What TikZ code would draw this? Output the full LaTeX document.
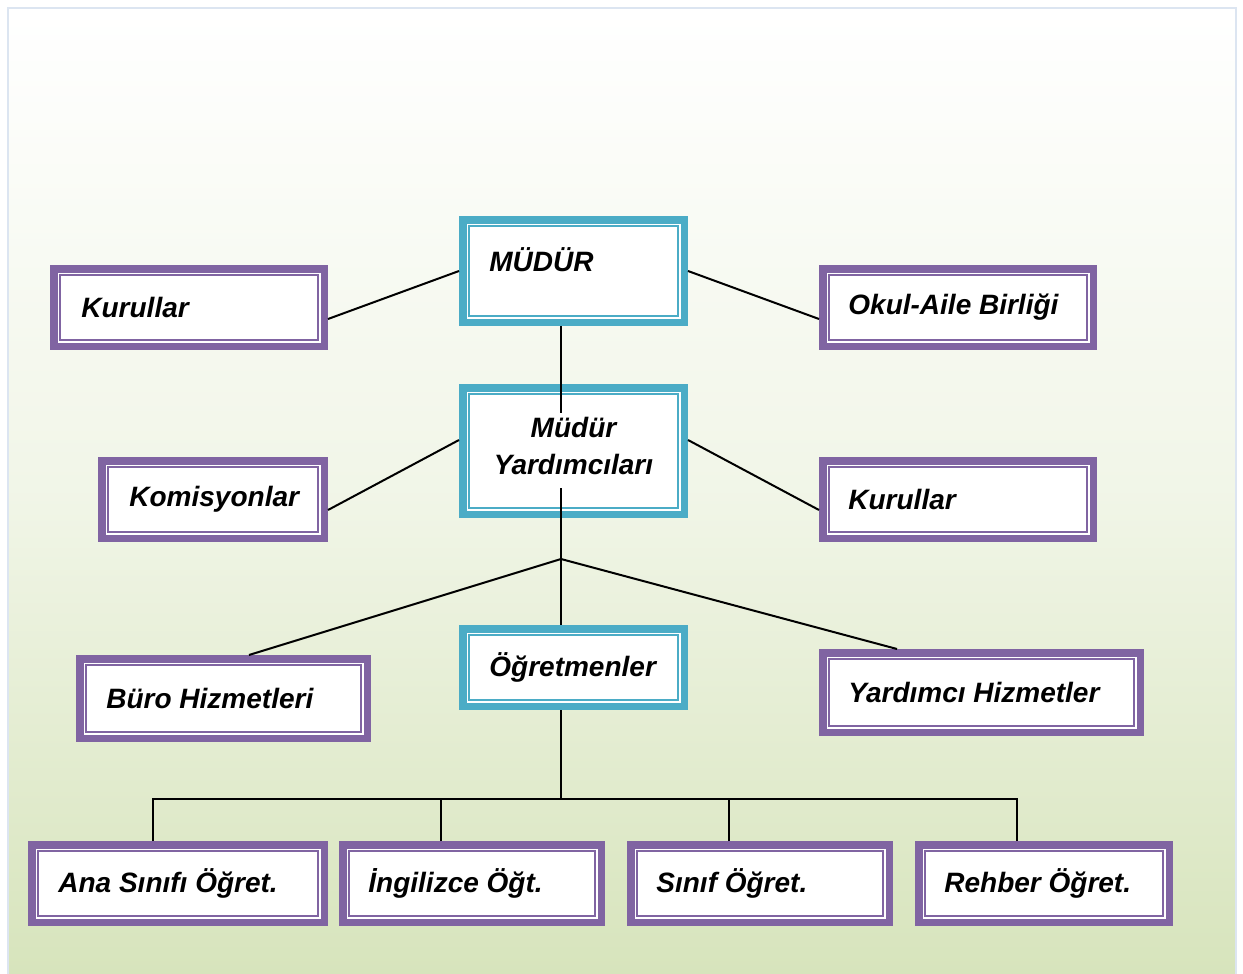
\documentclass[tikz,border=0pt]{standalone}
\usepackage{fontspec}
\setmainfont{Liberation Sans}
\usetikzlibrary{positioning}
\definecolor{purp}{HTML}{8064A2}
\definecolor{aqua}{HTML}{4BACC6}
\definecolor{olive}{HTML}{D7E4BC}
\definecolor{pageline}{HTML}{DCE5F1}
\tikzset{box/.style = {draw=#1, line width=3.75pt, fill=white, inner sep=0pt, minimum height=38.75pt,
                       path picture={\draw [#1, line width=0.9pt]
                         ([shift={(3pt, 3pt)}]path picture bounding box.south west)
                         rectangle ([shift={(-3pt, -3pt)}]path picture bounding box.north east);}}}
\tikzset{txt/.style = {font=\bfseries\itshape\fontsize{14}{18.5}\selectfont, inner sep=0pt}}
\tikzset{link/.style = {line width=1pt, black}}

\begin{document}
\begin{tikzpicture}[x=0.5pt, y=-0.5pt]
      \useasboundingbox (0, 0) rectangle (1243, 974);
      \shade [top color=white, bottom color=olive, middle color=olive!35] (9, 9) rectangle (1235, 974);
      \draw [pageline, line width=1.2pt] (8, 974) -- (8, 8) -- (1236, 8) -- (1236, 974);

      % top row
      \node [box=aqua, minimum width=110.75pt, minimum height=51.25pt] (mudur) at (573.5, 271) {};
      \node [box=purp, minimum width=135.25pt] (kurul1) at (189, 307.5) {};
      \node [box=purp, minimum width=135.25pt] (okul) at (958, 307.5) {};

      % second row
      \node [box=aqua, minimum width=110.75pt, minimum height=63.25pt] (myard) at (573.5, 451) {};
      \node [box=purp, minimum width=111.25pt] (komis) at (213, 499.5) {};
      \node [box=purp, minimum width=135.25pt] (kurul2) at (958, 499.5) {};

      % third row
      \node [box=aqua, minimum width=110.75pt] (ogret) at (573.5, 667.5) {};
      \node [box=purp, minimum width=143.75pt, minimum height=39.75pt] (buro) at (223.5, 698.5) {};
      \node [box=purp, minimum width=158.75pt, minimum height=39.75pt] (yard) at (981.5, 692.5) {};

      % teachers
      \node [box=purp, minimum width=146.25pt] (ana) at (178, 883.5) {};
      \node [box=purp, minimum width=129.25pt] (ing) at (472, 883.5) {};
      \node [box=purp, minimum width=129.25pt] (sinif) at (760, 883.5) {};
      \node [box=purp, minimum width=125.25pt] (rehber) at (1044, 883.5) {};

      \node [txt, right=15pt of mudur.west, yshift=5.5pt] (tmudur) {MÜDÜR};
      \node [txt, right=15.5pt of kurul1.west] (tkurul1) {Kurullar};
      \node [txt, right=14.5pt of okul.west] (tokul) {Okul-Aile Birliği};
      \node [txt, align=center, yshift=2.5pt] (tmyard) at (myard) {Müdür\\Yardımcıları};
      \node [txt, right=15.5pt of komis.west] (tkomis) {Komisyonlar};
      \node [txt, right=14.5pt of kurul2.west] (tkurul2) {Kurullar};
      \node [txt, right=15pt of ogret.west] (togret) {Öğretmenler};
      \node [txt, right=15pt of buro.west] (tburo) {Büro Hizmetleri};
      \node [txt, right=14.5pt of yard.west] (tyard) {Yardımcı Hizmetler};
      \node [txt, right=15pt of ana.west] (tana) {Ana Sınıfı Öğret.};
      \node [txt, right=14.5pt of ing.west] (ting) {İngilizce Öğt.};
      \node [txt, right=14.5pt of sinif.west] (tsinif) {Sınıf Öğret.};
      \node [txt, right=14.5pt of rehber.west] (trehber) {Rehber Öğret.};

      \coordinate (myin1) at (561, 413);
      \coordinate (myin2) at (561, 488);
      \coordinate (fork) at (561, 559);
      \coordinate (bus) at (561, 799);

      \draw [link] (mudur.west) -- ([yshift=-5.75pt]kurul1.east);
      \draw [link] (mudur.east) -- ([yshift=-5.75pt]okul.west);
      \draw [link] ([xshift=-6.25pt]mudur.south) -- (myin1);
      \draw [link] ([yshift=5.5pt]myard.west) -- ([yshift=-5.25pt]komis.east);
      \draw [link] ([yshift=5.5pt]myard.east) -- ([yshift=-5.25pt]kurul2.west);
      \draw [link] (myin2) -- (fork);
      \draw [link] (fork) -- ([xshift=12.75pt]buro.north);
      \draw [link] (fork) -- ([xshift=-42.25pt]yard.north);
      \draw [link] (fork) -- ([xshift=-6.25pt]ogret.north);
      \draw [link] ([xshift=-6.25pt]ogret.south) -- (bus);
      \draw [link] ([xshift=-12.5pt]ana.north) |- (bus) -| ([xshift=-13.5pt]rehber.north);
      \draw [link] ([xshift=-15.5pt]ing.north) |- (bus);
      \draw [link] ([xshift=-15.5pt]sinif.north) |- (bus);
    \end{tikzpicture}
\end{document}
